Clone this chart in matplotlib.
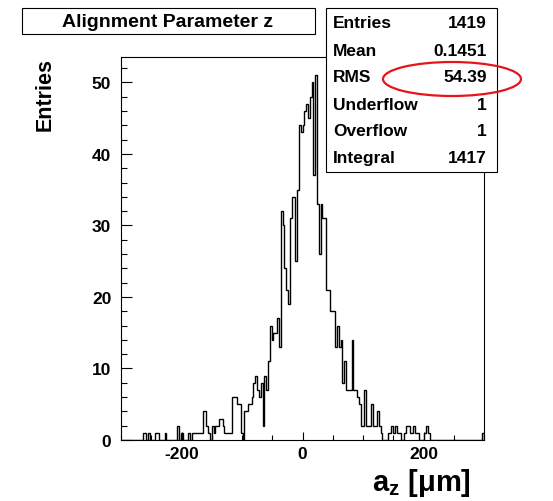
import numpy as np
import matplotlib
matplotlib.use("Agg")
import matplotlib.pyplot as plt
from matplotlib.patches import Rectangle, Ellipse
from matplotlib.ticker import MultipleLocator, FixedLocator

plt.rcParams['font.family'] = ['Liberation Sans', 'DejaVu Sans']
plt.rcParams['axes.unicode_minus'] = False
plt.rcParams['mathtext.fontset'] = 'custom'
plt.rcParams['mathtext.rm'] = 'Liberation Sans'
plt.rcParams['mathtext.bf'] = 'Liberation Sans:bold'

# histogram: 200 bins of 3 um from -300 to 300
x_lo, x_hi, n_bins = -300, 300, 200
nonzero_bins = [
    12, 13, 15, 19, 20, 24, 31, 33, 37, 39, 40, 41, 42, 43, 44,
    45, 46, 47, 48, 50, 51, 52, 53, 54, 55, 56, 57, 58, 59, 60,
    61, 62, 63, 64, 65, 66, 68, 69, 70, 71, 72, 73, 74, 75, 76,
    77, 78, 79, 80, 81, 82, 83, 84, 85, 86, 87,
    88, 89, 90, 91, 92, 93, 94, 95, 96, 97, 98, 99, 100, 101, 102,
    103, 104, 105, 106, 107,
    108, 109, 110, 111, 112, 113, 114, 115, 116, 117, 118, 119, 120,
    121, 122, 123, 124, 125, 126, 127, 128, 129, 130, 131, 132, 133,
    134, 135, 136, 137, 138, 139, 140, 141, 142, 143,
    147, 148, 149, 150, 151, 152, 153, 156, 157, 158, 159, 160, 161,
    162, 163, 167, 168, 169, 199,
]
nonzero_counts = [
    1, 1, 1, 1, 1, 1, 2, 1, 1, 1, 1, 1, 1, 1, 1,
    4, 4, 2, 1, 2, 1, 2, 2, 3, 3, 2, 1, 1, 1, 1,
    6, 6, 6, 5, 5, 1, 4, 4, 5, 5, 6, 8, 9, 7, 6,
    8, 2, 9, 7, 11, 16, 14, 15, 15, 17, 13,
    32, 30, 24, 21, 19, 31, 34, 34, 25, 35, 44, 43, 44, 46, 47,
    45, 48, 50, 37, 51,
    33, 26, 33, 31, 31, 21, 21, 18, 18, 18, 13, 16, 13,
    14, 8, 11, 7, 7, 7, 14, 7, 7, 6, 5, 2, 2,
    7, 2, 2, 2, 5, 2, 2, 4, 2, 1,
    1, 1, 2, 1, 2, 1, 1, 1, 2, 2, 1, 1, 2,
    1, 1, 1, 2, 1, 1,
]

stat_names = ["Entries", "Mean", "RMS", "Underflow", "Overflow", "Integral"]
stat_values = ["1419", "0.1451", "54.39", "1", "1", "1417"]

counts = np.zeros(n_bins)
counts[nonzero_bins] = nonzero_counts
edges = np.linspace(x_lo, x_hi, n_bins + 1)

W, H = 553, 502
fig = plt.figure(figsize=(W / 100, H / 100), dpi=100)
fig.patch.set_facecolor('white')

# main frame (pixel box 121..484 x 58..441)
ax = fig.add_axes([121 / W, 1 - 441 / H, 363 / W, 383 / H])
ax.stairs(counts, edges, color='black', linewidth=1.0, baseline=0)
ax.set_xlim(x_lo, x_hi)
ax.set_ylim(0, 1.05 * counts.max())

ax.xaxis.set_major_locator(FixedLocator([-200, 0, 200]))
ax.xaxis.set_minor_locator(MultipleLocator(50))
ax.yaxis.set_major_locator(MultipleLocator(10))
ax.yaxis.set_minor_locator(MultipleLocator(2))
ax.tick_params(axis='both', which='both', direction='in', top=False, right=False,
               width=0.8, colors='black')
ax.tick_params(axis='y', which='major', length=8, pad=7)
ax.tick_params(axis='y', which='minor', length=4.5)
ax.tick_params(axis='x', which='major', length=6, pad=4)
ax.tick_params(axis='x', which='minor', length=3.5)
for lab in ax.get_xticklabels() + ax.get_yticklabels():
    lab.set_fontweight('bold')
    lab.set_fontsize(12.5)
for sp in ax.spines.values():
    sp.set_linewidth(0.8)

# overlay in pixel coordinates for boxes and titles
ov = fig.add_axes([0, 0, 1, 1])
ov.set_xlim(0, W)
ov.set_ylim(H, 0)
ov.axis('off')
ov.set_zorder(10)
ov.patch.set_alpha(0)

# title box
ov.add_patch(Rectangle((22, 9), 293, 26, facecolor='white', edgecolor='black', linewidth=0.8))
ov.text(168, 22.5, "Alignment Parameter z", ha='center', va='center',
        fontsize=14, fontweight='bold')

# statistics box
ov.add_patch(Rectangle((326, 9), 171, 164, facecolor='white', edgecolor='black', linewidth=0.8))
for k, (name, val) in enumerate(zip(stat_names, stat_values)):
    y = 24 + 27 * k
    ov.text(333, y, name, ha='left', va='center', fontsize=12.5, fontweight='bold')
    ov.text(487, y, val, ha='right', va='center', fontsize=12.5, fontweight='bold')

# red ellipse around RMS value
ov.add_patch(Ellipse((452, 80), 138, 34, facecolor='none', edgecolor='#e8141c', linewidth=1.6))

# axis titles
ov.text(45, 58, "Entries", rotation=90, ha='center', va='top',
        fontsize=15.5, fontweight='bold')
ov.text(471, 491, r"a$_{\mathbf{z}}$ [μm]", ha='right', va='baseline',
        fontsize=21, fontweight='bold')

fig.savefig("out.png", dpi=100)
